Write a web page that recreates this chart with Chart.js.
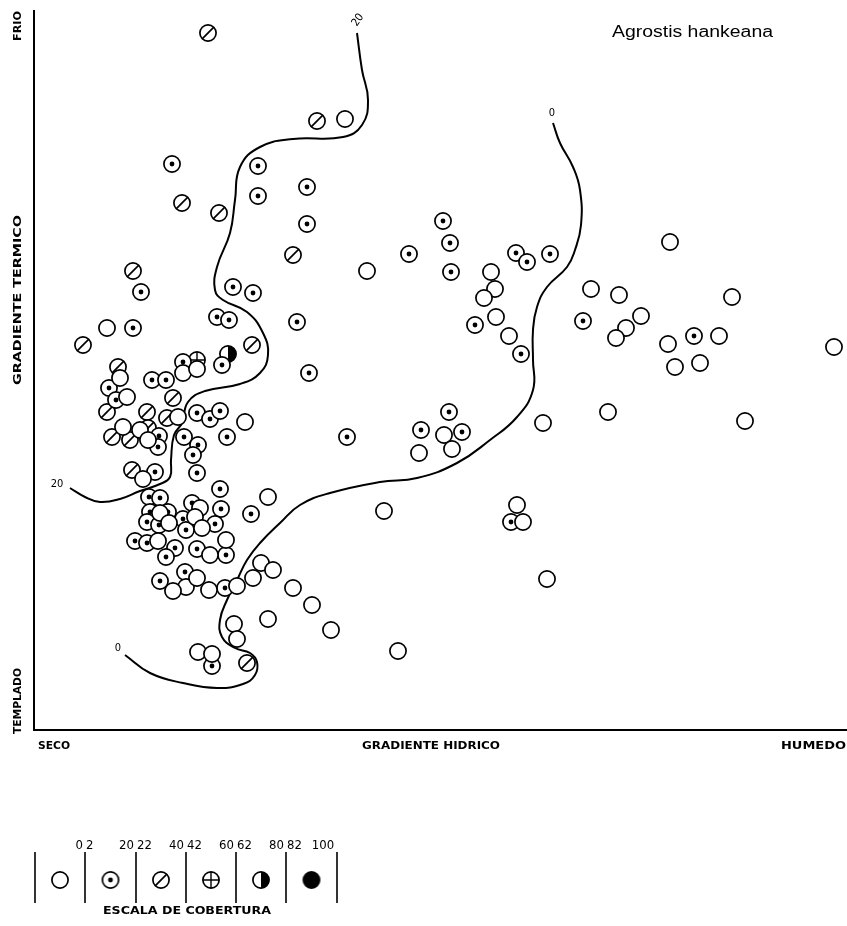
<!DOCTYPE html>
<html>
<head>
<meta charset="utf-8">
<script src="https://cdn.jsdelivr.net/npm/chart.js@4/dist/chart.umd.min.js"></script>
<style>
  html, body { margin: 0; padding: 0; background: #fff; }
  #wrap { width: 847px; height: 926px; }
</style>
</head>
<body>
<div id="wrap"><canvas id="c" width="847" height="926"></canvas></div>
<script>
// Gradiente hídrico (x, seco -> húmedo) y gradiente térmico (y, templado -> frío),
// en unidades relativas del diagrama: x 0..813, y 0..720.

// Cobertura 0-2 %
const cob0a2 = [
  [311,611],[333,459],[73,402],
  [457,458],[461,441],[450,432],[462,413],[475,394],
  [636,488],[557,441],[585,435],[607,414],[592,402],[582,392],[698,433],[685,394],
  [634,386],[641,363],[666,367],[800,383],[574,318],[711,309],
  [410,295],[385,277],[418,281],[509,307],[350,219],[483,225],[489,208],[513,151],
  [297,100],[364,79],
  [259,142],[278,125],[234,111],[200,106],[203,91],[164,78],[178,76],
  [227,167],[239,160],[219,152],[203,144],[175,140],[152,143],[139,139],[163,152],
  [234,233],[109,251],[126,217],[135,207],[166,222],[161,213],[168,202],[124,189],
  [176,175],[192,190],
  [86,352],[93,333],[149,357],[163,361],[144,313],[211,308],[89,303],[106,300],[114,290]
];

// Cobertura 2-20 %
const cob2a20 = [
  [138,566],[224,564],[273,543],[224,534],[273,506],[107,438],[199,443],[219,437],
  [99,402],[183,413],[195,410],[263,408],[275,357],
  [375,476],[409,509],[416,487],[417,458],[482,477],[493,468],[516,476],[441,405],[487,376],
  [549,409],[660,394],
  [313,293],[415,318],[387,300],[428,298],[477,208],
  [178,64],[191,142],[151,158],[126,149],
  [163,257],[186,241],[217,216],[121,258],
  [115,233],[126,232],[116,218],[134,218],[113,208],[125,205],[158,227],[187,221],
  [149,211],[152,200],[181,206],[101,189],[113,187],[141,182],[132,173],[163,181],[192,175],
  [75,342],[82,330],[118,350],[132,350],[149,368],[188,365],[163,317],[176,311],[186,319],
  [125,294],[124,283],[150,293],[164,285],[159,275],[193,293]
];

// Cobertura 20-40 %
const cob20a40 = [
  [174,697],[283,609],[148,527],[185,517],[259,475],[99,459],[49,385],[218,385],
  [84,363],[73,318],[139,332],[113,318],[133,312],[78,293],[96,290],[114,302],
  [98,260],[213,67]
];

// Cobertura 40-60 %
const cob40a60 = [[163,370]];

// Cobertura 60-80 %
const cob60a80 = [[194,376]];

// Cobertura 80-100 %
const cob80a100 = [];

// Isolíneas de cobertura (20 % y 0 %)
const isolinea20 = [
  [323,697],[328,660],[334,630],[328,605],[309,593],[259,591],[226,583],[206,563],
  [201,530],[196,497],[183,463],[181,440],[189,430],[213,418],[229,397],[234,375],
  [226,357],[206,346],[171,339],[154,328],[148,307],[140,295],[137,270],[136,253],
  [126,246],[106,239],[86,231],[66,228],[51,233],[36,242]
];
const isolinea0 = [
  [519,607],[526,587],[539,563],[546,540],[547,505],[541,480],[533,463],[513,443],
  [503,423],[499,400],[499,370],[499,340],[483,313],[456,290],[423,267],[383,252],
  [346,248],[296,237],[266,225],[246,207],[226,187],[213,170],[203,150],[193,130],
  [186,110],[188,93],[201,82],[216,77],[223,68],[221,55],[209,46],[183,42],
  [149,47],[116,57],[91,75]
];

// Rótulos de las isolíneas: texto, x, y, giro (grados)
const rotulosIsolinea = [
  ['20', 324, 710, -55],
  ['20', 23, 246, 0],
  ['0', 518, 617, 0],
  ['0', 84, 82, 0]
];

// Escala de cobertura
const clasesCobertura = ['0-2', '2-20', '20-40', '40-60', '60-80', '80-100'];
const limitesEscala = [['', ''], ['0', '2'], ['20', '22'], ['40', '42'], ['60', '62'], ['80', '82'], ['100', '']];

// ---- símbolos ----
function simbolo(tipo) {
  const s = 22, m = s / 2, r = 8.1;
  const c = document.createElement('canvas');
  c.width = s; c.height = s;
  const g = c.getContext('2d');
  g.lineWidth = 1.7;
  g.strokeStyle = '#000';
  g.fillStyle = '#fff';
  g.beginPath(); g.arc(m, m, r, 0, Math.PI * 2); g.fill();
  g.fillStyle = '#000';
  if (tipo === 'half') {
    g.beginPath(); g.moveTo(m, m - r); g.arc(m, m, r, -Math.PI / 2, Math.PI / 2); g.closePath(); g.fill();
  }
  if (tipo === 'full') {
    g.beginPath(); g.arc(m, m, r, 0, Math.PI * 2); g.fill();
  }
  g.beginPath(); g.arc(m, m, r, 0, Math.PI * 2); g.stroke();
  if (tipo === 'dot') {
    g.beginPath(); g.arc(m, m, 2.4, 0, Math.PI * 2); g.fill();
  }
  if (tipo === 'slash') {
    const d = r * 0.72;
    g.beginPath(); g.moveTo(m - d, m + d); g.lineTo(m + d, m - d); g.stroke();
  }
  if (tipo === 'cross') {
    g.lineWidth = 1.4;
    g.beginPath(); g.moveTo(m - r, m); g.lineTo(m + r, m); g.moveTo(m, m - r); g.lineTo(m, m + r); g.stroke();
  }
  return c;
}
const tipos = ['open', 'dot', 'slash', 'cross', 'half', 'full'];
const simbolos = tipos.map(simbolo);

const pts = arr => arr.map(([x, y]) => ({ x, y }));
const serie = (label, arr, img) => ({
  label, data: pts(arr), pointStyle: img, pointRadius: 9, pointHoverRadius: 9, clip: false
});
const linea = (label, arr) => ({
  label, data: pts(arr), showLine: true, borderColor: '#000', borderWidth: 2,
  pointRadius: 0, pointHoverRadius: 0, tension: 0.45, fill: false, clip: false
});

function textoAjustado(ctx, txt, x, y, ancho, font, align) {
  ctx.font = font;
  const w = ctx.measureText(txt).width;
  ctx.save();
  ctx.translate(x, y);
  ctx.scale(ancho / w, 1);
  ctx.textAlign = align;
  ctx.textBaseline = 'middle';
  ctx.fillText(txt, 0, 0);
  ctx.restore();
}

const FUENTE = 'bold 11px "DejaVu Sans Condensed", "DejaVu Sans", sans-serif';

const dibujo = {
  id: 'dibujo',
  beforeDatasetsDraw(chart) {
    const { ctx, chartArea: a } = chart;
    ctx.save();
    ctx.strokeStyle = '#000';
    ctx.lineWidth = 2;
    ctx.beginPath();
    ctx.moveTo(a.left, a.top);
    ctx.lineTo(a.left, a.bottom);
    ctx.lineTo(a.right, a.bottom);
    ctx.stroke();
    ctx.restore();
  },
  afterDraw(chart) {
    const { ctx, chartArea: a, scales } = chart;
    ctx.save();
    ctx.fillStyle = '#000';

    // Ejes
    const rot = (txt, cy, largo) => {
      ctx.save(); ctx.translate(18, cy); ctx.rotate(-Math.PI / 2);
      textoAjustado(ctx, txt, 0, 0, largo, FUENTE, 'center');
      ctx.restore();
    };
    rot('FRIO', 26, 30);
    rot('GRADIENTE TERMICO', 300, 170);
    rot('TEMPLADO', 701, 66);
    const yb = a.bottom + 16;
    textoAjustado(ctx, 'SECO', 38, yb, 32, FUENTE, 'left');
    textoAjustado(ctx, 'GRADIENTE HIDRICO', 431, yb, 138, FUENTE, 'center');
    textoAjustado(ctx, 'HUMEDO', 781, yb, 65, FUENTE, 'left');

    // Título
    textoAjustado(ctx, 'Agrostis hankeana', 612, 33, 161, '16px "Liberation Sans", Arial, sans-serif', 'left');

    // Rótulos de isolíneas
    rotulosIsolinea.forEach(([t, x, y, g]) => {
      ctx.save();
      ctx.translate(scales.x.getPixelForValue(x), scales.y.getPixelForValue(y));
      ctx.rotate(g * Math.PI / 180);
      ctx.font = '11px "DejaVu Sans Condensed", "DejaVu Sans", sans-serif';
      ctx.textAlign = 'center'; ctx.textBaseline = 'middle';
      ctx.fillText(t, 0, 0);
      ctx.restore();
    });

    // Escala de cobertura
    const barras = [35, 85, 136, 186, 236, 286, 337];
    ctx.strokeStyle = '#000';
    ctx.lineWidth = 1.6;
    barras.forEach(bx => {
      ctx.beginPath(); ctx.moveTo(bx, 852); ctx.lineTo(bx, 903); ctx.stroke();
    });
    const fNum = '13px "DejaVu Sans Condensed", "DejaVu Sans", sans-serif';
    limitesEscala.forEach(([izq, der], i) => {
      const bx = barras[i];
      ctx.font = fNum; ctx.textBaseline = 'middle';
      if (i === barras.length - 1) {
        ctx.textAlign = 'center'; ctx.fillText(izq, bx - 14, 846);
        return;
      }
      if (izq) { ctx.textAlign = 'right'; ctx.fillText(izq, bx - 2, 846); }
      if (der) { ctx.textAlign = 'left'; ctx.fillText(der, bx + 1, 846); }
    });
    clasesCobertura.forEach((c, i) => {
      const cx = (barras[i] + barras[i + 1]) / 2;
      const img = simbolos[i];
      ctx.drawImage(img, cx - img.width / 2, 880 - img.height / 2);
    });
    textoAjustado(ctx, 'ESCALA DE COBERTURA', 187, 911, 168, 'bold 10px "DejaVu Sans Condensed", "DejaVu Sans", sans-serif', 'center');
    ctx.restore();
  }
};

new Chart(document.getElementById('c'), {
  type: 'scatter',
  data: {
    datasets: [
      serie('0-2', cob0a2, simbolos[0]),
      serie('2-20', cob2a20, simbolos[1]),
      serie('20-40', cob20a40, simbolos[2]),
      serie('40-60', cob40a60, simbolos[3]),
      serie('60-80', cob60a80, simbolos[4]),
      serie('80-100', cob80a100, simbolos[5]),
      linea('isolínea 20', isolinea20),
      linea('isolínea 0', isolinea0)
    ]
  },
  options: {
    responsive: false,
    animation: false,
    devicePixelRatio: 1,
    events: [],
    layout: { autoPadding: false, padding: { left: 34, top: 10, right: 0, bottom: 196 } },
    plugins: { legend: { display: false }, tooltip: { enabled: false } },
    scales: {
      x: { type: 'linear', min: 0, max: 813, display: false },
      y: { type: 'linear', min: 0, max: 720, display: false }
    }
  },
  plugins: [dibujo]
});
</script>
</body>
</html>
